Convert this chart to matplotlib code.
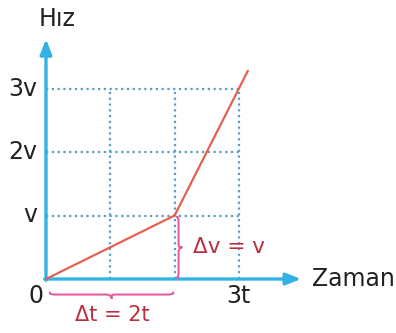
import numpy as np
import matplotlib
matplotlib.use("Agg")
import matplotlib.pyplot as plt
from matplotlib.path import Path
from matplotlib.patches import PathPatch

# Velocity-time graph data (units of t and v)
times = [0, 2, 3, 3.14]
speeds = [0, 1, 3, 3.28]
grid_t = [1, 2, 3]
grid_v = [1, 2, 3]
y_tick_labels = ["v", "2v", "3v"]
x_tick_label = "3t"

AXIS_C = "#35b2e4"
GRID_C = "#5a9cc8"
LINE_C = "#e4604f"
BRACE_C = "#e2559a"
NOTE_C = "#b8303f"

fig = plt.figure(figsize=(3.96, 3.33), dpi=100)
ax = fig.add_axes([0, 0, 1, 1])
px_t = 64.3
px_v = 63.5
x0, y0 = 46, 279
ax.set_xlim(-x0 / px_t, (396 - x0) / px_t)
ax.set_ylim(-(333 - y0) / px_v, y0 / px_v)
ax.axis("off")

# dotted grid
for t in grid_t:
    ax.plot([t, t], [0, 3], color=GRID_C, lw=1.6, ls=(0, (1, 1.6)), zorder=1)
for v in grid_v:
    ax.plot([0, 3], [v, v], color=GRID_C, lw=1.6, ls=(0, (1, 1.6)), zorder=1)

# axes with arrows
ax.annotate("", xy=(3.97, 0), xytext=(-0.02, 0),
            arrowprops=dict(arrowstyle="-|>,head_length=0.9,head_width=0.35",
                            color=AXIS_C, lw=2.4, shrinkA=0, shrinkB=0), zorder=3)
ax.annotate("", xy=(0, 3.78), xytext=(0, -0.02),
            arrowprops=dict(arrowstyle="-|>,head_length=0.9,head_width=0.35",
                            color=AXIS_C, lw=2.4, shrinkA=0, shrinkB=0), zorder=3)

# velocity line
ax.plot(times, speeds, color=LINE_C, lw=1.6, zorder=4, solid_capstyle="round")


def brace(ax, a, b, depth, offset, horizontal, color):
    """Curly brace from a to b; offset is the base line, depth the tip direction."""
    mid = (a + b) / 2
    h = depth
    q = 0.35 * h
    pts = [
        (a, offset),
        (a, offset + q), (a + 0.04 * np.sign(b - a), offset + q), (a + 0.1 * np.sign(b - a), offset + q),
        (mid - 0.08 * np.sign(b - a), offset + q),
        (mid, offset + q), (mid, offset + h), (mid, offset + h),
        (mid, offset + q), (mid, offset + q), (mid + 0.08 * np.sign(b - a), offset + q),
        (b - 0.1 * np.sign(b - a), offset + q),
        (b - 0.04 * np.sign(b - a), offset + q), (b, offset + q), (b, offset),
    ]
    codes = [Path.MOVETO,
             Path.CURVE4, Path.CURVE4, Path.CURVE4,
             Path.LINETO,
             Path.CURVE4, Path.CURVE4, Path.CURVE4,
             Path.CURVE4, Path.CURVE4, Path.CURVE4,
             Path.LINETO,
             Path.CURVE4, Path.CURVE4, Path.CURVE4]
    if not horizontal:
        pts = [(y, x) for x, y in pts]
    ax.add_patch(PathPatch(Path(pts, codes), fill=False, edgecolor=color,
                           lw=1.4, zorder=5, capstyle="round"))


brace(ax, 0.06, 1.98, -0.1, -0.21, True, BRACE_C)
brace(ax, 0.02, 0.98, 0.09, 2.03, False, BRACE_C)

fs = 17
ax.text(-0.13, 3.0, y_tick_labels[2], ha="right", va="center", fontsize=fs, color="#222222")
ax.text(-0.13, 2.0, y_tick_labels[1], ha="right", va="center", fontsize=fs, color="#222222")
ax.text(-0.13, 1.0, y_tick_labels[0], ha="right", va="center", fontsize=fs, color="#222222")
ax.text(-0.15, -0.27, "0", ha="center", va="center", fontsize=fs, color="#222222")
ax.text(3.0, -0.27, x_tick_label, ha="center", va="center", fontsize=fs, color="#222222")
ax.text(-0.12, 4.1, "Hız", ha="left", va="center", fontsize=fs, color="#222222")
ax.text(4.14, 0.0, "Zaman", ha="left", va="center", fontsize=fs, color="#222222")

ax.text(1.03, -0.56, "\u0394t = 2t", ha="center", va="center", fontsize=15, color=NOTE_C)
ax.text(2.29, 0.5, "\u0394v = v", ha="left", va="center", fontsize=15.5, color=NOTE_C)

fig.savefig("out.png", dpi=100)
